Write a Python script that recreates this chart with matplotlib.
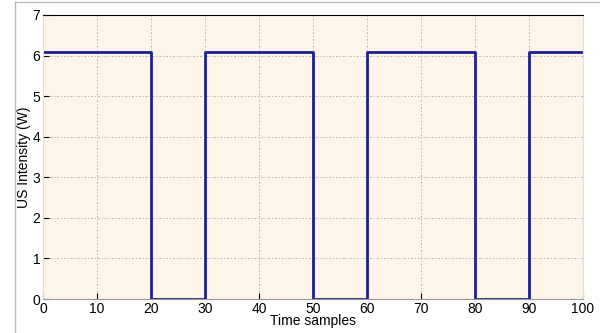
import matplotlib
matplotlib.use('Agg')
import matplotlib.pyplot as plt
from matplotlib.lines import Line2D

# Niveis do sinal de ultrassom (pulsos on/off)
tempo = [0, 20, 20, 30, 30, 50, 50, 60, 60, 80, 80, 90, 90, 100]
intensidade = [6.1, 6.1, 0, 0, 6.1, 6.1, 0, 0, 6.1, 6.1, 0, 0, 6.1, 6.1]
xticks = [0, 10, 20, 30, 40, 50, 60, 70, 80, 90, 100]
yticks = [0, 1, 2, 3, 4, 5, 6, 7]

plt.rcParams['font.family'] = ['Liberation Sans', 'DejaVu Sans']

fig = plt.figure(figsize=(6, 3.33), dpi=100)
ax = fig.add_axes([0.0717, 0.102, 0.9, 0.853])
ax.set_facecolor('#fdf5ea')

ax.plot(tempo, intensidade, color='#1f1f8f', linewidth=2)

ax.set_xlim(0, 100)
ax.set_ylim(0, 7)
ax.set_xticks(xticks)
ax.set_yticks(yticks)
ax.tick_params(direction='in', labelsize=10, length=4, pad=2)
ax.grid(True, linestyle=(0, (2, 2, 1, 2)), color='#b5b5b5', linewidth=0.7)

ax.set_xlabel('Time samples', fontsize=10, labelpad=-1)
ax.set_ylabel('US Intensity (W)', fontsize=10, labelpad=1)

for lado in ['left', 'right']:
    ax.spines[lado].set_color('#dddddd')
ax.spines['bottom'].set_color('#999999')
ax.spines['top'].set_color('black')

# moldura da figura
fig.add_artist(Line2D([15 / 600, 15 / 600], [0, 1 - 2 / 333], color='#bbbbbb', linewidth=1))
fig.add_artist(Line2D([15 / 600, 1], [1 - 2 / 333, 1 - 2 / 333], color='#bbbbbb', linewidth=1))

fig.savefig('out.png', dpi=100)
